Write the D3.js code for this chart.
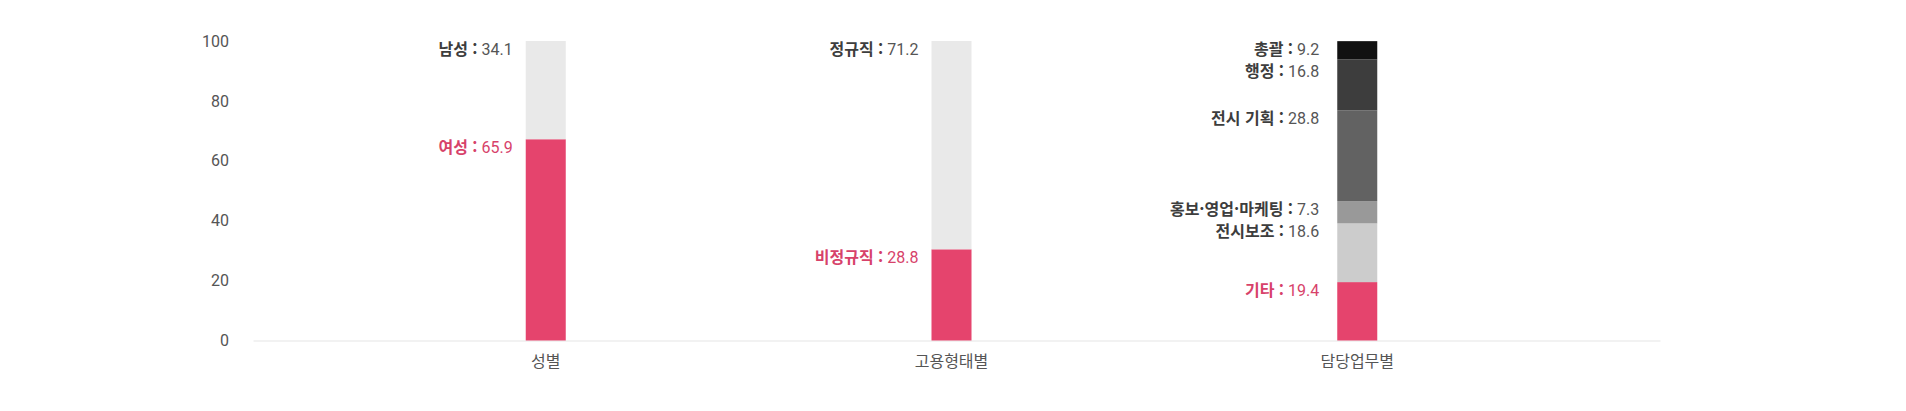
<!DOCTYPE html>
<html lang="ko">
<head>
<meta charset="utf-8">
<script src="https://cdn.jsdelivr.net/npm/d3@7"></script>
<style>
  body { margin: 0; background: #fff; }
  svg { font-family: "Roboto", "Noto Sans CJK KR", sans-serif; }
</style>
</head>
<body>
<svg id="chart"></svg>
<script>
// categories on the x axis
const groups = ["성별", "고용형태별", "담당업무별"];

// each group is stacked bottom-up; names / label values / drawn heights
const genderNames = ["여성", "남성"];
const genderValues = [65.9, 34.1];
const genderHeights = [67.2, 32.8];

const employNames = ["비정규직", "정규직"];
const employValues = [28.8, 71.2];
const employHeights = [30.45, 69.55];

const dutyNames = ["기타", "전시보조", "홍보·영업·마케팅", "전시 기획", "행정", "총괄"];
const dutyValues = [19.4, 18.6, 7.3, 28.8, 16.8, 9.2];
const dutyHeights = [19.5, 19.6, 7.45, 30.3, 17.0, 6.1];

const yTicks = [0, 20, 40, 60, 80, 100];

const pink = "#e5446d";
const pinkText = "#d7426a";
const groupColors = [
  [pink, "#e9e9e9"],
  [pink, "#e9e9e9"],
  [pink, "#cccccc", "#999999", "#626262", "#3d3d3d", "#111111"]
];
const labelGap = [13, 13, 18];

const stacks = [
  {names: genderNames, values: genderValues, heights: genderHeights},
  {names: employNames, values: employValues, heights: employHeights},
  {names: dutyNames, values: dutyValues, heights: dutyHeights}
];

const W = 1906, H = 411;
const svg = d3.select("#chart").attr("width", W).attr("height", H);

const x = d3.scaleBand().domain(groups).range([253, 1660])
  .paddingInner(0.9014).paddingOuter(0.6845).align(0.491);
const y = d3.scaleLinear().domain([0, 100]).range([340.5, 41]);

// y axis labels
const yAxis = svg.append("g").attr("transform", "translate(253,0)")
  .call(d3.axisLeft(y).tickValues(yTicks).tickSize(0).tickPadding(24));
yAxis.select(".domain").remove();
yAxis.selectAll("text").attr("fill", "#555").style("font-size", "16px")
  .style("font-family", "Roboto, sans-serif");

// x axis
const xAxis = svg.append("g").attr("transform", "translate(0,340.5)")
  .call(d3.axisBottom(x).tickSize(0).tickSizeOuter(0));
xAxis.select(".domain").attr("stroke", "#e6e6e6").attr("stroke-width", 1.2);
xAxis.selectAll("text").attr("fill", "#555").attr("y", 21).attr("dy", "0.35em")
  .style("font-size", "16px").style("font-family", "'Noto Sans CJK KR', sans-serif");

stacks.forEach((s, gi) => {
  let acc = 0;
  const segs = s.heights.map((h, i) => {
    const seg = {name: s.names[i], value: s.values[i], y0: acc, y1: acc + h, color: groupColors[gi][i], idx: i};
    acc += h;
    return seg;
  });

  const g = svg.append("g");
  g.selectAll("rect").data(segs).join("rect")
    .attr("x", x(groups[gi]))
    .attr("width", x.bandwidth())
    .attr("y", d => y(d.y1))
    .attr("height", d => y(d.y0) - y(d.y1))
    .attr("fill", d => d.color);

  // labels: placed from the top down, pushed apart when crowded
  const ordered = segs.slice().reverse();
  let prev = -Infinity;
  ordered.forEach(d => {
    d.ly = Math.max(y(d.y1) + 8, prev + 22);
    prev = d.ly;
  });

  const t = g.selectAll("text").data(ordered).join("text")
    .attr("x", x(groups[gi]) - labelGap[gi])
    .attr("y", d => d.ly)
    .attr("dy", "0.35em")
    .attr("text-anchor", "end")
    .style("font-size", "16px")
    .attr("fill", d => d.idx === 0 ? pinkText : "#3d3d3d");
  t.append("tspan").attr("font-weight", 700)
    .style("font-family", "'Noto Sans CJK KR', sans-serif")
    .text(d => d.name + " :");
  t.append("tspan").attr("fill", d => d.idx === 0 ? pinkText : "#555")
    .text(d => " " + d.value);
});
</script>
</body>
</html>
